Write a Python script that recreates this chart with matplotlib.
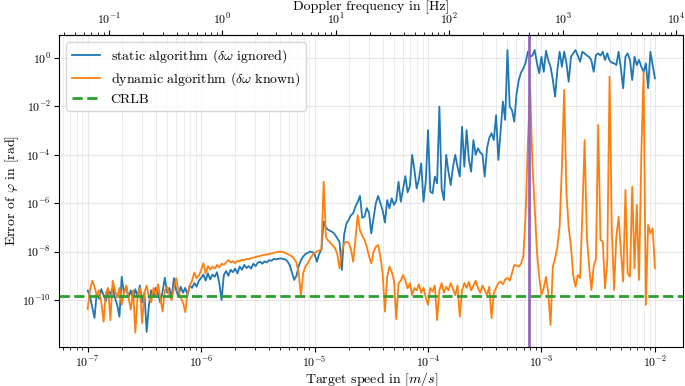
import numpy as np
import matplotlib
matplotlib.use("Agg")
import matplotlib.pyplot as plt
from matplotlib.ticker import LogLocator, NullLocator, LogFormatterSciNotation

plt.rcParams["font.family"] = "serif"
plt.rcParams["font.serif"] = ["cmr10", "DejaVu Serif"]
plt.rcParams["mathtext.fontset"] = "cm"
plt.rcParams["axes.formatter.use_mathtext"] = True
plt.rcParams["axes.unicode_minus"] = False

# target speed grid [m/s]
speed = np.logspace(-7, -2, 251)

# log10 of the phase error
static_log = [
    -9.61, -9.85, -10.3, -10.74, -9.7, -9.95, -9.55, -9.8, -10.05, -9.6,
    -9.75, -9.5, -9.9, -10.2, -10.69, -9.04, -9.7, -9.45, -9.9, -9.6,
    -10.0, -9.55, -9.85, -9.4, -10.1, -9.7, -11.32, -10.2, -9.6, -9.85,
    -9.5, -9.75, -10.1, -9.65, -9.08, -9.7, -9.5, -9.9, -9.1, -9.6,
    -9.85, -9.45, -9.7, -9.5, -9.8, -9.4, -9.5, -9.3, -9.45, -9.2,
    -9.09, -8.95, -9.2, -8.9, -9.15, -8.95, -9.04, -8.85, -9.3, -10.0,
    -8.97, -8.8, -9.0, -8.75, -8.85, -8.7, -8.9, -8.62, -8.75, -8.55,
    -8.68, -8.6, -8.7, -8.5, -8.6, -8.45, -8.42, -8.5, -8.4, -8.45,
    -8.35, -8.38, -8.3, -8.32, -8.3, -8.28, -8.3, -8.32, -8.4, -8.55,
    -8.85, -9.17, -9.0, -8.6, -8.35, -8.2, -8.1, -8.05, -8.0, -8.02,
    -8.1, -8.42, -8.1, -7.93, -6.76, -7.0, -7.1, -7.15, -7.2, -7.3,
    -7.45, -7.6, -8.76, -7.31, -6.85, -6.69, -6.5, -6.42, -6.14, -5.95,
    -5.7, -6.6, -6.56, -6.2, -6.4, -7.25, -6.6, -6.0, -5.7, -6.0,
    -6.3, -6.8, -5.87, -6.21, -5.8, -6.07, -5.9, -5.11, -5.94, -5.4,
    -4.88, -5.55, -5.3, -4.0, -4.63, -5.39, -5.0, -4.35, -5.94, -5.11,
    -2.98, -5.52, -5.59, -4.9, -5.18, -2.01, -5.39, -5.87, -4.0, -4.7,
    -5.25, -4.5, -4.0, -4.5, -4.9, -2.84, -4.49, -2.98, -4.2, -4.7,
    -3.39, -4.0, -3.73, -3.9, -4.0, -4.9, -3.73, -3.3, -3.11, -3.39,
    -2.36, -4.21, -3.0, -1.8, -2.56, 0.33, -2.01, -2.15, -2.63, -1.5,
    -0.91, -0.6, -0.43, -0.2, 0.26, 0.05, 0.1, 0.33, -0.2, -0.63,
    0.05, -0.57, 0.3, -0.1, -0.36, -0.9, -1.6, -0.5, 0.26, -0.36,
    0.26, -0.22, -0.98, 0.05, 0.19, 0.33, 0.1, -0.15, 0.26, 0.19,
    0.1, 0.05, -0.1, -0.57, 0.12, 0.19, 0.1, 0.26, -0.08, 0.19,
    -0.1, -0.19, -0.22, -0.29, 0.26, -0.43, -1.25, 0.05, 0.19, -0.08,
    -0.91, 0.05, -0.29, -0.08, -0.36, -0.57, -0.22, -1.25, 0.26, -0.3,
    -0.84,
]

dynamic_log = [
    -10.37, -9.6, -9.2, -9.45, -9.8, -9.6, -10.1, -10.9, -9.7, -9.5,
    -10.83, -9.2, -9.6, -9.9, -9.5, -10.2, -9.7, -9.4, -9.9, -10.4,
    -9.6, -11.35, -9.8, -9.5, -10.95, -9.7, -9.4, -9.9, -10.1, -9.5,
    -9.8, -9.35, -9.9, -10.48, -9.6, -9.45, -9.8, -10.0, -9.5, -9.1,
    -9.6, -9.9, -10.1, -10.5, -9.7, -9.4, -9.2, -8.87, -9.1, -9.0,
    -8.76, -8.48, -8.9, -8.6, -8.75, -8.62, -8.7, -8.55, -8.65, -8.5,
    -8.55, -8.45, -8.35, -8.45, -8.4, -8.48, -8.38, -8.4, -8.33, -8.36,
    -8.3, -8.32, -8.27, -8.25, -8.22, -8.2, -8.18, -8.15, -8.13, -8.12,
    -8.1, -8.08, -8.05, -8.03, -8.02, -8.0, -8.02, -8.05, -8.1, -8.14,
    -8.2, -8.3, -8.45, -8.9, -9.82, -8.88, -8.6, -8.48, -8.3, -8.15,
    -8.07, -8.0, -7.95, -7.93, -5.11, -7.4, -7.55, -7.65, -7.75, -7.85,
    -8.1, -8.69, -8.0, -7.66, -7.6, -7.62, -7.9, -8.42, -7.5, -6.49,
    -7.11, -7.35, -7.52, -7.8, -8.2, -8.49, -8.0, -7.8, -7.73, -8.2,
    -8.9, -10.48, -9.04, -8.62, -8.83, -9.2, -10.79, -9.31, -9.2, -8.97,
    -9.2, -9.52, -9.3, -9.79, -9.5, -9.6, -9.35, -9.7, -9.5, -9.9,
    -10.2, -9.5, -9.65, -9.4, -10.83, -9.6, -9.3, -9.7, -9.45, -9.6,
    -9.3, -9.55, -9.8, -9.4, -10.69, -9.6, -9.3, -9.5, -9.25, -9.6,
    -9.4, -9.2, -9.5, -9.7, -9.4, -9.6, -9.8, -9.45, -10.75, -9.7,
    -9.5, -9.3, -9.24, -9.35, -9.15, -9.09, -9.2, -8.9, -8.55, -8.58,
    -8.62, -8.5, -8.21, -6.5, -3.5, -1.18, -4.35, -6.14, -8.0, -9.04,
    -9.79, -9.5, -9.04, -9.72, -11.03, -8.62, -8.28, -7.8, -6.97, -4.5,
    -1.32, -5.59, -7.0, -7.8, -9.0, -9.45, -8.97, -9.1, -6.5, -3.39,
    -7.38, -8.6, -9.59, -8.62, -8.28, -2.77, -7.52, -7.59, -9.52, -8.42,
    -0.77, -7.11, -9.59, -7.38, -6.56, -8.0, -9.24, -5.45, -8.9, -9.04,
    -5.32, -8.69, -6.07, -9.17, -4.0, -0.57, -10.2, -6.9, -7.25, -7.04,
    -8.69,
]

crlb = 1.5e-10
marked_speed = 7.8e-4      # purple marker [m/s]
doppler_per_speed = 6.5e5  # Hz per m/s

static_err = 10.0 ** np.array(static_log)
dynamic_err = 10.0 ** np.array(dynamic_log)

fig = plt.figure(figsize=(6.85, 3.86), dpi=100)
ax = fig.add_axes([0.0866, 0.1018, 0.9109, 0.8075])

ax.plot(speed, static_err, color="tab:blue", lw=1.3,
        label=r"static algorithm ($\delta\omega$ ignored)")
ax.plot(speed, dynamic_err, color="tab:orange", lw=1.3,
        label=r"dynamic algorithm ($\delta\omega$ known)")
ax.axhline(crlb, color="tab:green", ls="--", lw=2, label="CRLB")
ax.axvline(marked_speed, color="tab:purple", lw=2)

ax.set_xscale("log")
ax.set_yscale("log")
ax.set_xlim(10 ** -7.25, 10 ** -1.75)
ax.set_ylim(10 ** -11.93, 10 ** 0.95)
ax.set_yticks([10.0 ** k for k in range(-10, 1, 2)])
ax.yaxis.set_major_formatter(LogFormatterSciNotation())
ax.yaxis.set_minor_locator(NullLocator())
ax.xaxis.set_minor_locator(LogLocator(base=10, subs=np.arange(2, 10), numticks=20))

ax.grid(True, which="major", color="#e6e6e6", lw=0.8)
ax.grid(True, which="minor", axis="x", color="#ececec", lw=0.7)
ax.set_axisbelow(True)

ax.set_xlabel(r"Target speed in $[m/s]$", fontsize=10, labelpad=0)
ax.set_ylabel(r"Error of $\varphi$ in [rad]", fontsize=10, labelpad=1)
ax.tick_params(labelsize=8.5, pad=2.5)

top = ax.secondary_xaxis("top", functions=(lambda v: v * doppler_per_speed,
                                           lambda f: f / doppler_per_speed))
top.set_xlabel("Doppler frequency in [Hz]", fontsize=10, labelpad=1)
top.tick_params(labelsize=8.5, pad=2.5)

ax.legend(loc="upper left", fontsize=10, framealpha=0.8, edgecolor="#cccccc",
          borderaxespad=0.5, handlelength=2.0, labelspacing=0.35)

fig.savefig("out.png", dpi=100)
